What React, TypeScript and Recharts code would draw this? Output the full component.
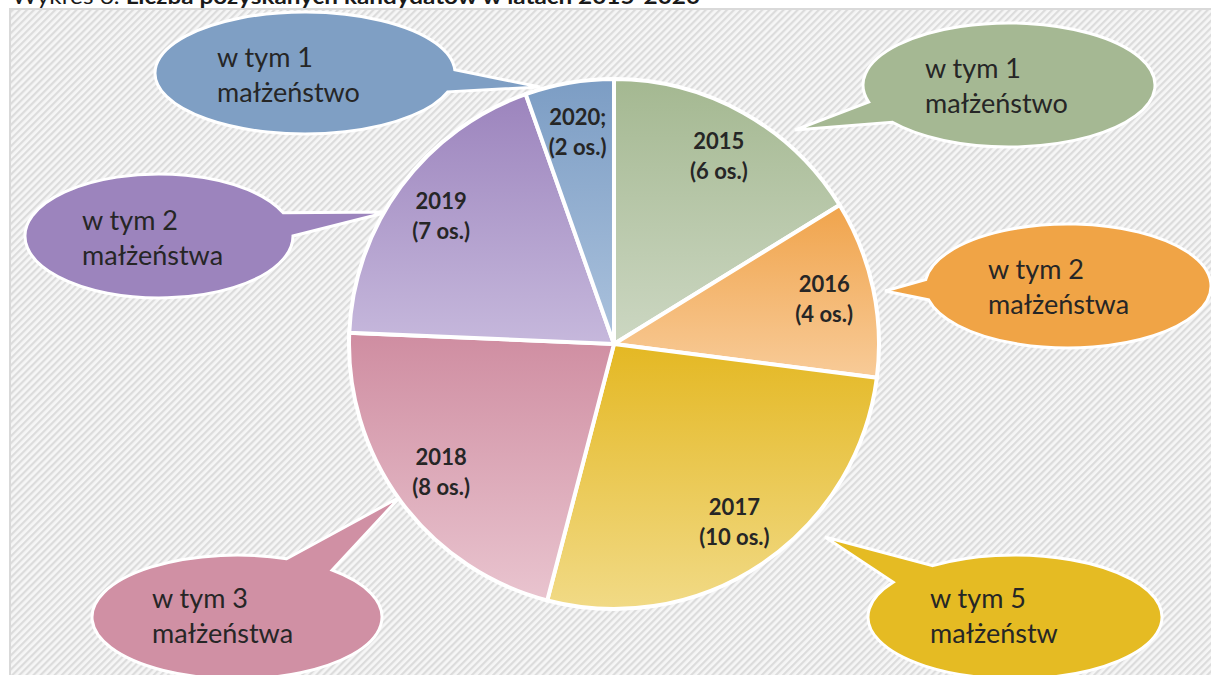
import React from "react";
import { PieChart, Pie, Cell } from "recharts";

const years = ["2015", "2016", "2017", "2018", "2019", "2020"];
const yearLabels = ["2015", "2016", "2017", "2018", "2019", "2020;"];
const candidates = [6, 4, 10, 8, 7, 2];
const marriageCounts = [1, 2, 5, 3, 2, 1];
const marriageWords = [
  "małżeństwo",
  "małżeństwa",
  "małżeństw",
  "małżeństwa",
  "małżeństwa",
  "małżeństwo",
];

const data = years.map((y, i) => ({ name: y, value: candidates[i] }));

// gradient top -> bottom for each slice
const SLICE_GRADIENTS: [string, string][] = [
  ["#a4b891", "#ccd7c2"],
  ["#f0a44c", "#f8cb98"],
  ["#e4b823", "#f1da86"],
  ["#cf8da1", "#e9c4cf"],
  ["#9c84bd", "#c6b8dc"],
  ["#7c9dc4", "#abc2dd"],
];

const BUBBLE_COLORS = ["#a5b893", "#f0a446", "#e5bb23", "#d090a4", "#9c84bd", "#7f9fc4"];

// callout shapes, same order as years
const CALLOUTS = [
  { cx: 1009, cy: 85, rx: 146, ry: 62, a1: 164, a2: 503, tip: [795, 130], tx: 925, ty: 78 },
  { cx: 1068, cy: 286, rx: 143, ry: 62, a1: 186, a2: 527, tip: [885, 291], tx: 988, ty: 279 },
  { cx: 1015, cy: 617, rx: 147, ry: 62, a1: 236, a2: 574, tip: [825, 537], tx: 930, ty: 608 },
  { cx: 237, cy: 617, rx: 145, ry: 62, a1: -49, a2: 290, tip: [400, 497], tx: 152, ty: 608 },
  { cx: 159, cy: 236, rx: 134, ry: 62, a1: 0, a2: 338, tip: [388, 212], tx: 82, ty: 230 },
  { cx: 305, cy: 73, rx: 150, ry: 61, a1: 18, a2: 357, tip: [540, 87], tx: 217, ty: 67 },
];

const W = 1211;
const H = 675;
const RADIAN = Math.PI / 180;
const FONT = "Lato, 'Open Sans', sans-serif";

function bubblePath(c: (typeof CALLOUTS)[number]): string {
  const p = (a: number) => [c.cx + c.rx * Math.cos(a * RADIAN), c.cy + c.ry * Math.sin(a * RADIAN)];
  const [x1, y1] = p(c.a1);
  const [x2, y2] = p(c.a2);
  return `M${x1},${y1} A${c.rx},${c.ry} 0 1 1 ${x2},${y2} L${c.tip[0]},${c.tip[1]} Z`;
}

function renderLabel(props: any) {
  const { cx, cy, midAngle, index } = props;
  const r = 215;
  const x = cx + r * Math.cos(-midAngle * RADIAN);
  const y = cy + r * Math.sin(-midAngle * RADIAN);
  return (
    <text
      x={x}
      y={y}
      textAnchor="middle"
      fill="#262626"
      fontFamily={FONT}
      fontWeight={700}
      fontSize={22}
    >
      <tspan x={x} y={y - 7}>
        {yearLabels[index]}
      </tspan>
      <tspan x={x} y={y + 23}>
        ({candidates[index]} os.)
      </tspan>
    </text>
  );
}

export default function App() {
  return (
    <div style={{ position: "absolute", left: 0, top: 0, width: W, height: H, overflow: "hidden" }}>
      <svg width={W} height={H} style={{ position: "absolute", left: 0, top: 0 }}>
        <defs>
          <pattern id="hatch" width="5" height="5" patternUnits="userSpaceOnUse" patternTransform="rotate(-45)">
            <rect width="5" height="5" fill="#f6f6f6" />
            <rect width="5" height="2.2" fill="#dcdcdc" />
          </pattern>
        </defs>
        <text x={12} y={4} fontFamily={FONT} fontSize={21} fill="#1a1a1a" textLength={688} lengthAdjust="spacingAndGlyphs">
          Wykres 6. <tspan fontWeight={700}>Liczba pozyskanych kandydatów w latach 2015-2020</tspan>
        </text>
        <rect x={10} y={9} width={W} height={H} fill="url(#hatch)" stroke="#d9d9d9" strokeWidth={2} />
        {CALLOUTS.map((c, i) => (
          <g key={years[i]}>
            <path d={bubblePath(c)} fill={BUBBLE_COLORS[i]} stroke="#ffffff" strokeWidth={3} strokeLinejoin="miter" />
            <text fontFamily={FONT} fontSize={27} fill="#262626">
              <tspan x={c.tx} y={c.ty}>
                w tym {marriageCounts[i]}
              </tspan>
              <tspan x={c.tx} y={c.ty + 35}>
                {marriageWords[i]}
              </tspan>
            </text>
          </g>
        ))}
      </svg>
      <div style={{ position: "absolute", left: 0, top: 0 }}>
        <PieChart width={W} height={H} margin={{ top: 0, right: 0, bottom: 0, left: 0 }}>
          <defs>
            {SLICE_GRADIENTS.map(([top, bottom], i) => (
              <linearGradient key={years[i]} id={`grad${i}`} x1="0" y1="0" x2="0" y2="1">
                <stop offset="0%" stopColor={top} />
                <stop offset="100%" stopColor={bottom} />
              </linearGradient>
            ))}
          </defs>
          <Pie
            data={data}
            dataKey="value"
            nameKey="name"
            cx={614}
            cy={344}
            outerRadius={265}
            startAngle={90}
            endAngle={-270}
            stroke="#ffffff"
            strokeWidth={4}
            label={renderLabel}
            labelLine={false}
            isAnimationActive={false}
          >
            {data.map((d, i) => (
              <Cell key={d.name} fill={`url(#grad${i})`} />
            ))}
          </Pie>
        </PieChart>
      </div>
    </div>
  );
}
